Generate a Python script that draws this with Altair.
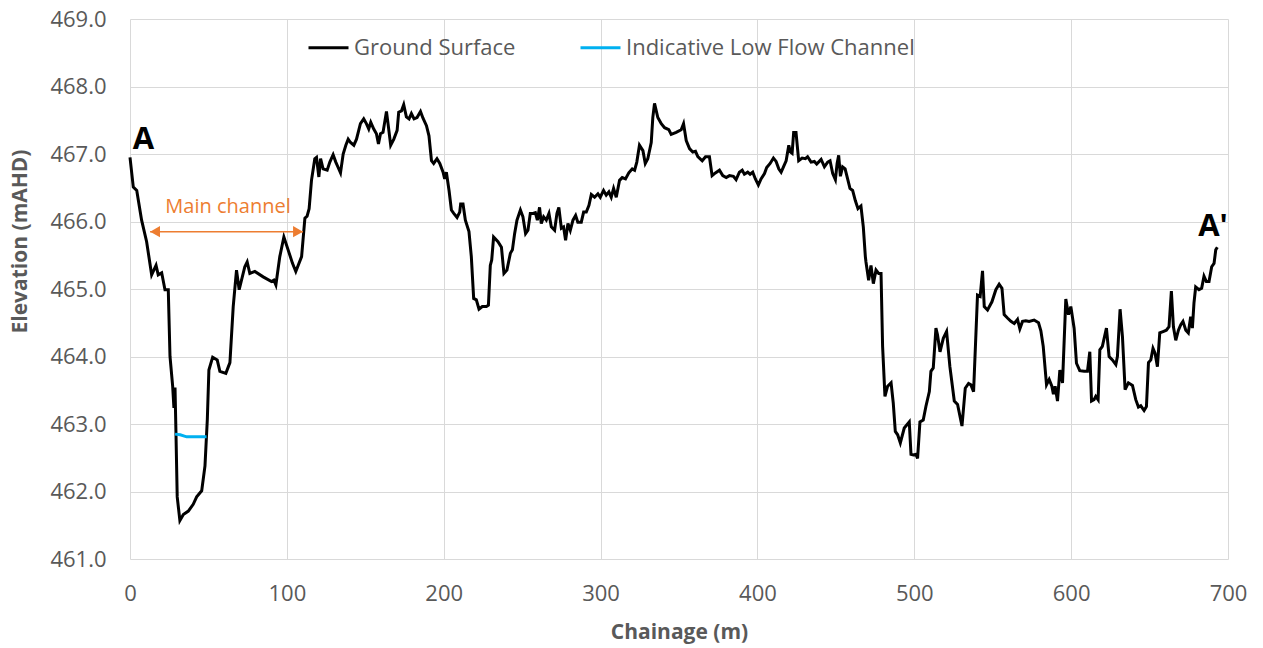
import altair as alt
import pandas as pd

# Ground surface survey along the cross-section A - A'
chainage_m = [
    0.0, 2.1, 4.3, 7.4, 10.6, 13.8, 16.6, 18.0, 20.2, 22.3, 24.4, 25.5, 27.2, 28.0, 28.7,
    29.3, 30.1, 31.8, 34.0, 37.2, 40.3, 42.5, 45.7, 47.8, 49.3, 50.3, 52.7, 55.6, 57.3,
    61.1, 63.7, 65.8, 67.9, 69.6, 73.2, 74.7, 76.4, 79.6, 84.9, 90.2, 91.7, 93.0, 95.5,
    98.1, 100.8, 103.6, 105.7, 109.4, 111.5, 112.9, 114.2, 115.7, 117.8, 118.9, 120.4,
    121.5, 123.1, 125.7, 127.4, 129.5, 131.2, 132.7, 134.2, 135.9, 137.6, 139.1, 140.6,
    142.7, 144.4, 146.9, 149.0, 150.7, 152.2, 153.5, 155.4, 157.1, 158.4, 159.7, 161.3,
    163.5, 164.5, 166.2, 168.2, 170.3, 171.3, 173.1, 174.5, 176.2, 177.9, 179.4, 181.1,
    183.0, 185.2, 186.8, 189.0, 190.6, 192.2, 193.6, 195.7, 197.5, 199.6, 200.6, 201.7,
    203.4, 204.9, 206.4, 208.5, 210.2, 210.8, 212.3, 213.8, 216.1, 217.6, 219.1, 220.8,
    222.5, 224.6, 227.2, 228.5, 229.7, 230.6, 231.8, 234.6, 236.8, 238.4, 240.3, 242.5,
    243.8, 245.2, 246.7, 248.9, 250.5, 252.2, 253.7, 255.2, 256.9, 258.4, 259.7, 261.1,
    262.2, 263.7, 265.4, 267.1, 268.6, 270.7, 272.2, 273.4, 275.0, 276.4, 277.7, 279.2,
    280.7, 282.4, 284.1, 285.5, 287.7, 289.2, 290.9, 292.6, 294.1, 296.2, 298.3, 299.8,
    301.9, 303.6, 305.3, 306.8, 308.3, 310.0, 312.1, 313.8, 315.9, 318.0, 320.2, 321.7,
    323.1, 324.8, 327.0, 328.5, 330.1, 332.3, 333.3, 334.4, 336.5, 338.7, 340.8, 343.5,
    345.0, 348.2, 351.4, 352.9, 354.6, 356.7, 358.8, 360.5, 362.0, 364.8, 366.9, 369.4,
    371.1, 373.2, 375.8, 377.9, 380.1, 382.2, 384.7, 386.4, 388.5, 390.3, 391.7, 393.8,
    395.3, 397.0, 398.7, 400.6, 402.3, 404.5, 405.9, 408.1, 410.2, 411.9, 413.6, 415.1,
    416.6, 418.3, 420.0, 421.0, 422.1, 423.1, 424.6, 426.3, 428.5, 430.6, 432.0, 434.2,
    436.3, 437.8, 440.6, 442.7, 444.8, 446.3, 448.0, 449.7, 450.8, 451.8, 452.9, 454.3,
    455.9, 457.5, 459.0, 460.7, 462.4, 464.1, 466.0, 467.5, 468.8, 469.2, 470.9, 472.4,
    473.9, 475.6, 477.3, 478.8, 479.8, 481.3, 483.0, 485.2, 486.6, 487.9, 489.4, 491.1,
    493.6, 496.8, 497.9, 499.4, 501.1, 502.1, 503.6, 505.7, 507.4, 509.6, 510.6, 512.1,
    513.8, 514.8, 516.4, 518.5, 520.6, 522.7, 525.5, 527.6, 530.4, 532.5, 534.6, 536.1,
    537.8, 540.3, 542.0, 543.5, 544.6, 546.7, 549.5, 552.0, 554.1, 555.9, 557.3, 559.4,
    561.6, 563.7, 565.8, 567.3, 569.0, 571.1, 573.2, 576.4, 579.2, 580.7, 582.2, 584.3,
    586.0, 587.7, 588.7, 589.8, 591.3, 592.8, 594.5, 596.6, 598.3, 599.8, 601.9, 603.4,
    605.5, 608.3, 610.4, 611.9, 613.0, 614.6, 615.7, 617.2, 618.3, 619.9, 622.5, 624.2,
    626.3, 628.5, 629.5, 631.2, 632.7, 634.4, 636.5, 639.1, 641.2, 642.9, 644.4, 646.5,
    648.0, 649.3, 650.8, 652.2, 653.5, 655.0, 656.5, 658.6, 660.7, 662.4, 663.9, 665.2,
    666.7, 668.4, 669.9, 671.3, 673.1, 674.7, 676.2, 677.3, 678.3, 679.4, 681.5, 683.2,
    684.7, 686.2, 687.9, 689.6, 691.1, 692.2, 693.2,
]
ground_mahd = [
    466.95, 466.51, 466.46, 466.02, 465.70, 465.21, 465.35, 465.21, 465.24, 464.99, 464.99,
    464.00, 463.56, 463.24, 463.54, 462.87, 461.92, 461.57, 461.66, 461.71, 461.81, 461.92,
    462.01, 462.38, 463.07, 463.80, 463.99, 463.95, 463.78, 463.75, 463.91, 464.74, 465.28,
    464.99, 465.33, 465.40, 465.23, 465.26, 465.18, 465.11, 465.13, 465.06, 465.48, 465.77,
    465.58, 465.38, 465.26, 465.48, 466.05, 466.08, 466.19, 466.61, 466.93, 466.95, 466.66,
    466.93, 466.78, 466.76, 466.88, 466.99, 466.88, 466.80, 466.72, 467.00, 467.13, 467.22,
    467.17, 467.13, 467.22, 467.45, 467.52, 467.45, 467.37, 467.47, 467.37, 467.30, 467.15,
    467.30, 467.32, 467.63, 467.45, 467.13, 467.22, 467.35, 467.62, 467.64, 467.73, 467.55,
    467.52, 467.60, 467.52, 467.54, 467.63, 467.53, 467.42, 467.27, 466.90, 466.86, 466.93,
    466.86, 466.73, 466.63, 466.73, 466.46, 466.17, 466.12, 466.06, 466.14, 466.26, 466.26,
    466.02, 465.85, 465.48, 464.86, 464.84, 464.70, 464.74, 464.74, 464.76, 465.35, 465.43,
    465.77, 465.70, 465.62, 465.23, 465.28, 465.53, 465.58, 465.82, 466.02, 466.17, 466.07,
    465.82, 465.87, 466.12, 466.12, 466.13, 466.02, 466.21, 465.97, 466.07, 466.02, 466.12,
    465.92, 465.87, 466.12, 466.21, 465.90, 465.92, 465.72, 465.97, 465.87, 466.02, 466.09,
    465.99, 465.99, 466.14, 466.14, 466.24, 466.40, 466.36, 466.41, 466.36, 466.46, 466.39,
    466.44, 466.36, 466.49, 466.36, 466.61, 466.65, 466.63, 466.72, 466.78, 466.76, 466.88,
    467.13, 467.05, 466.86, 466.93, 467.17, 467.54, 467.75, 467.54, 467.45, 467.39, 467.36,
    467.29, 467.32, 467.36, 467.45, 467.20, 467.08, 467.03, 467.04, 466.96, 466.90, 466.96,
    466.96, 466.68, 466.72, 466.76, 466.68, 466.65, 466.68, 466.67, 466.62, 466.73, 466.76,
    466.70, 466.73, 466.70, 466.73, 466.63, 466.54, 466.63, 466.71, 466.80, 466.86, 466.94,
    466.89, 466.78, 466.73, 466.81, 466.90, 467.13, 467.03, 467.01, 467.32, 467.32, 466.90,
    466.94, 466.93, 466.96, 466.88, 466.89, 466.85, 466.92, 466.81, 466.88, 466.90, 466.71,
    466.62, 466.86, 466.98, 466.67, 466.81, 466.78, 466.63, 466.49, 466.46, 466.31, 466.19,
    466.23, 465.92, 465.48, 465.40, 465.13, 465.35, 465.08, 465.28, 465.23, 465.23, 464.15,
    463.41, 463.56, 463.61, 463.31, 462.89, 462.84, 462.72, 462.94, 463.03, 462.55, 462.54,
    462.55, 462.49, 463.03, 463.06, 463.26, 463.48, 463.78, 463.83, 464.42, 464.32, 464.07,
    464.27, 464.37, 463.85, 463.34, 463.29, 462.97, 463.53, 463.60, 463.58, 463.48, 464.91,
    464.89, 465.27, 464.74, 464.69, 464.81, 464.99, 465.07, 465.01, 464.62, 464.57, 464.52,
    464.49, 464.55, 464.41, 464.52, 464.53, 464.52, 464.54, 464.50, 464.38, 464.15, 463.58,
    463.66, 463.56, 463.44, 463.56, 463.34, 463.80, 463.61, 464.85, 464.62, 464.74, 464.42,
    463.90, 463.79, 463.78, 463.78, 464.07, 463.34, 463.36, 463.41, 463.36, 464.10, 464.15,
    464.42, 464.00, 463.95, 463.88, 464.00, 464.70, 464.30, 463.51, 463.61, 463.57, 463.36,
    463.25, 463.27, 463.20, 463.26, 463.91, 463.95, 464.12, 464.05, 463.85, 464.35, 464.37,
    464.39, 464.44, 464.97, 464.44, 464.24, 464.39, 464.47, 464.52, 464.39, 464.35, 464.59,
    464.42, 464.79, 465.03, 464.99, 465.01, 465.19, 465.11, 465.11, 465.33, 465.38, 465.58,
    465.62,
]

# Indicative low flow channel water level
low_flow_chainage = [28.7, 32.0, 36.1, 48.8]
low_flow_mahd = [462.85, 462.84, 462.81, 462.81]

series_names = ["Ground Surface", "Indicative Low Flow Channel"]
series_colors = ["#000000", "#00B0F0"]

x_ticks = [0, 100, 200, 300, 400, 500, 600, 700]
y_ticks = [461, 462, 463, 464, 465, 466, 467, 468, 469]

# Section end labels and the main channel annotation
end_labels = ["A", "A'"]
end_label_chainage = [8.6, 690.4]
end_label_mahd = [467.21, 465.92]

main_channel_text = "Main channel"
main_channel_text_pos = (62.5, 466.22)
main_channel_span = (12.8, 110.3)
main_channel_level = 465.85

FONT = "Open Sans"
GREY = "#595959"
ORANGE = "#ED7D31"

profile = pd.concat(
    [
        pd.DataFrame({"chainage": chainage_m, "elev": ground_mahd, "series": series_names[0]}),
        pd.DataFrame({"chainage": low_flow_chainage, "elev": low_flow_mahd, "series": series_names[1]}),
    ],
    ignore_index=True,
)

x_scale = alt.Scale(domain=[0, 700], nice=False, zero=False)
y_scale = alt.Scale(domain=[461, 469], nice=False, zero=False)

x_axis = alt.Axis(
    title="Chainage (m)", values=x_ticks, format="d", ticks=False, domain=False,
    grid=True, gridColor="#D9D9D9", gridWidth=1,
    labelFont=FONT, labelFontSize=22, labelColor=GREY, labelPadding=24,
    titleFont=FONT, titleFontSize=21, titleFontWeight="bold", titleColor=GREY,
    titleY=62, labelFlush=False,
)
y_axis = alt.Axis(
    title="Elevation (mAHD)", values=y_ticks, format=".1f", ticks=False, domain=False,
    grid=True, gridColor="#D9D9D9", gridWidth=1,
    labelFont=FONT, labelFontSize=22, labelColor=GREY, labelPadding=24,
    titleFont=FONT, titleFontSize=21, titleFontWeight="bold", titleColor=GREY,
    titleX=-100, titleY=222, labelFlush=False,
)

lines = alt.Chart(profile).mark_line(strokeWidth=3).encode(
    x=alt.X("chainage:Q", scale=x_scale, axis=x_axis),
    y=alt.Y("elev:Q", scale=y_scale, axis=y_axis),
    color=alt.Color(
        "series:N",
        scale=alt.Scale(domain=series_names, range=series_colors),
        legend=alt.Legend(
            title=None, orient="none", legendX=177, legendY=7, direction="horizontal",
            symbolType="stroke", symbolSize=1600, symbolStrokeWidth=3,
            labelFont=FONT, labelFontSize=22, labelColor=GREY, labelLimit=400,
            labelOffset=4, columnPadding=58,
        ),
    ),
    order=alt.Order("chainage:Q"),
)

ends = pd.DataFrame({"label": end_labels, "chainage": end_label_chainage, "elev": end_label_mahd})
end_text = alt.Chart(ends).mark_text(
    font=FONT, fontSize=31, fontWeight="bold", color="#000000", align="center", baseline="middle"
).encode(x="chainage:Q", y="elev:Q", text="label:N")

note = pd.DataFrame({"label": [main_channel_text], "chainage": [main_channel_text_pos[0]],
                     "elev": [main_channel_text_pos[1]]})
note_text = alt.Chart(note).mark_text(
    font=FONT, fontSize=20, color=ORANGE, align="center", baseline="middle"
).encode(x="chainage:Q", y="elev:Q", text="label:N")

span = pd.DataFrame({"start": [main_channel_span[0]], "end": [main_channel_span[1]],
                     "elev": [main_channel_level]})
arrow_line = alt.Chart(span).mark_rule(color=ORANGE, strokeWidth=1.5).encode(
    x="start:Q", x2="end:Q", y="elev:Q"
)

heads = pd.DataFrame({"chainage": list(main_channel_span), "elev": [main_channel_level] * 2})
left_head = alt.Chart(heads.iloc[[0]]).mark_point(
    shape="triangle-left", filled=True, color=ORANGE, size=130, opacity=1, xOffset=5
).encode(x="chainage:Q", y="elev:Q")
right_head = alt.Chart(heads.iloc[[1]]).mark_point(
    shape="triangle-right", filled=True, color=ORANGE, size=130, opacity=1, xOffset=-5
).encode(x="chainage:Q", y="elev:Q")

chart = alt.layer(lines, end_text, arrow_line, left_head, right_head, note_text).properties(
    width=1098,
    height=540,
    autosize=alt.AutoSizeParams(type="none"),
    padding={"left": 130, "top": 19, "right": 35, "bottom": 89},
    background="#FFFFFF",
).configure_view(stroke=None)

chart.save("out.html", embed_options={"renderer": "svg", "actions": False})
